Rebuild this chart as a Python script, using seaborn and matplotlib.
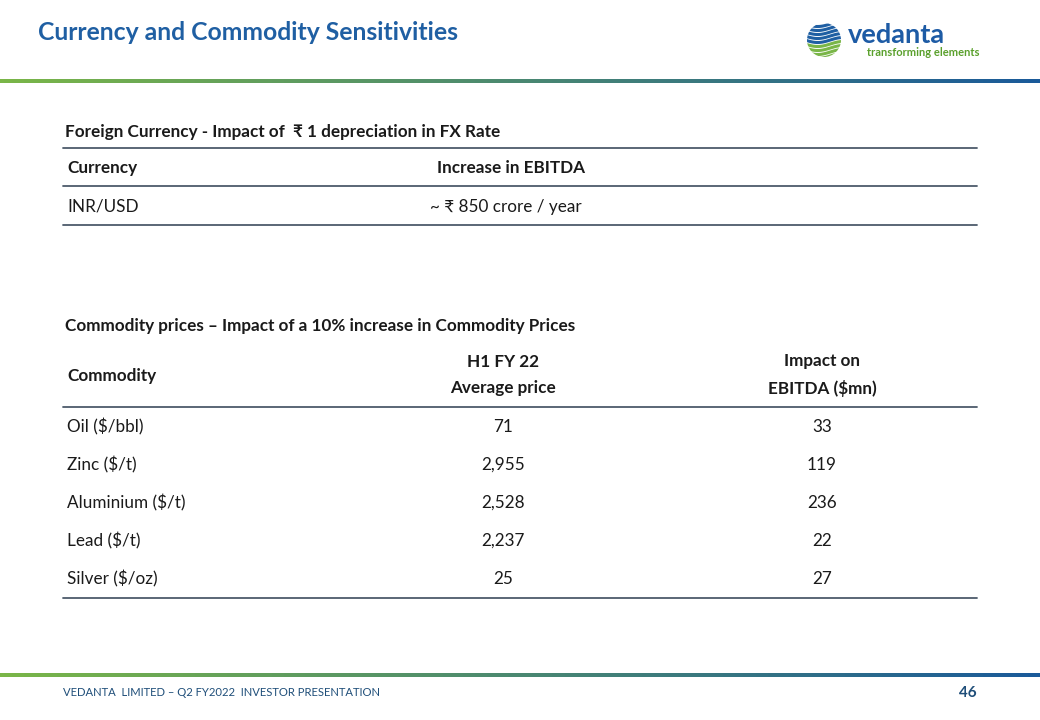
import numpy as np
import matplotlib.pyplot as plt
import seaborn as sns
from matplotlib.patches import Circle

# ---- data ----
title = "Currency and Commodity Sensitivities"
fx_heading = "Foreign Currency - Impact of  \u20b9 1 depreciation in FX Rate"
fx_columns = ["Currency", "Increase in EBITDA"]
fx_rows = [["INR/USD", "~ \u20b9 850 crore / year"]]

cm_heading = "Commodity prices \u2013 Impact of a 10% increase in Commodity Prices"
cm_columns = ["Commodity", "H1 FY 22\nAverage price", "Impact on\nEBITDA ($mn)"]
commodities = ["Oil ($/bbl)", "Zinc ($/t)", "Aluminium ($/t)", "Lead ($/t)", "Silver ($/oz)"]
avg_price = ["71", "2,955", "2,528", "2,237", "25"]
ebitda_impact = ["33", "119", "236", "22", "27"]

footer = "VEDANTA  LIMITED \u2013 Q2 FY2022  INVESTOR PRESENTATION"
page_no = "46"

BLUE = "#1f5fa3"
GREEN = "#7ab648"
TXT = "#1a1a1a"
RULE = "#4d5b6b"

sns.set_theme(style="white")
plt.rcParams['font.family'] = ['Lato', 'DejaVu Sans']

fig = plt.figure(figsize=(10.4, 7.2), dpi=100)
ax = fig.add_axes([0, 0, 1, 1])
ax.set_xlim(0, 1040)
ax.set_ylim(720, 0)
ax.axis("off")


def gradient_bar(y, h=4):
    grad = np.linspace(0, 1, 256)
    c0 = np.array([0x7a, 0xb6, 0x48]) / 255
    c1 = np.array([0x1a, 0x5a, 0x9a]) / 255
    img = (c0[None, :] * (1 - grad[:, None]) + c1[None, :] * grad[:, None])[None, :, :]
    ax.imshow(img, extent=(0, 1040, y + h / 2, y - h / 2), aspect="auto", zorder=1)


gradient_bar(81)
gradient_bar(675)
ax.set_xlim(0, 1040)
ax.set_ylim(720, 0)

# title
ax.text(38, 33, title, fontsize=17.8, fontweight="bold", color=BLUE, va="center", ha="left")

# logo
emb = Circle((824, 40), 17, transform=ax.transData)
for i in range(9):
    yy = 24 + i * 4
    xs = np.linspace(805, 843, 50)
    ys = yy + 2.5 * np.sin((xs - 805) / 38 * np.pi * 1.5)
    col = BLUE if i < 5 else GREEN
    ln, = ax.plot(xs, ys, color=col, lw=2.2, solid_capstyle="butt")
    ln.set_clip_path(emb)
ax.text(848, 35, "vedanta", fontsize=19.5, fontweight="bold", color="#1d5ba5", va="center", ha="left")
ax.text(867, 53, "transforming elements", fontsize=8, fontweight="bold", color="#5aa02c", va="center", ha="left")

# table helpers
def rule(y):
    ax.plot([63, 977], [y, y], color=RULE, lw=1.3, zorder=2)


FS = 12.3

# FX table
ax.text(65, 132, fx_heading, fontsize=FS, fontweight="bold", color=TXT, va="center")
rule(148)
ax.text(67, 168, fx_columns[0], fontsize=FS, fontweight="bold", color=TXT, va="center")
ax.text(511, 168, fx_columns[1], fontsize=FS, fontweight="bold", color=TXT, va="center", ha="center")
rule(186)
for i, (cur, val) in enumerate(fx_rows):
    y = 207 + i * 38
    ax.text(67, y, cur, fontsize=FS, color=TXT, va="center")
    ax.text(506, y, val, fontsize=FS, color=TXT, va="center", ha="center")
    rule(y + 18)

# commodity table
ax.text(65, 326, cm_heading, fontsize=FS, fontweight="bold", color=TXT, va="center")
ax.text(67, 376, cm_columns[0], fontsize=FS, fontweight="bold", color=TXT, va="center")
ax.text(503, 375, cm_columns[1], fontsize=FS, fontweight="bold", color=TXT, va="center",
        ha="center", linespacing=1.8)
ax.text(822, 375, cm_columns[2], fontsize=FS, fontweight="bold", color=TXT, va="center",
        ha="center", linespacing=1.8)
rule(407)
for i, (c, p, e) in enumerate(zip(commodities, avg_price, ebitda_impact)):
    y = 427 + i * 38
    ax.text(67, y, c, fontsize=FS, color=TXT, va="center")
    ax.text(503, y, p, fontsize=FS, color=TXT, va="center", ha="center")
    ax.text(822, y, e, fontsize=FS, color=TXT, va="center", ha="center")
rule(598)

# footer
ax.text(63, 693, footer, fontsize=8.1, color="#1f4e79", va="center")
ax.text(977, 693, page_no, fontsize=11, fontweight="bold", color="#1f4e79", va="center", ha="right")

fig.savefig("out.png", dpi=100)
